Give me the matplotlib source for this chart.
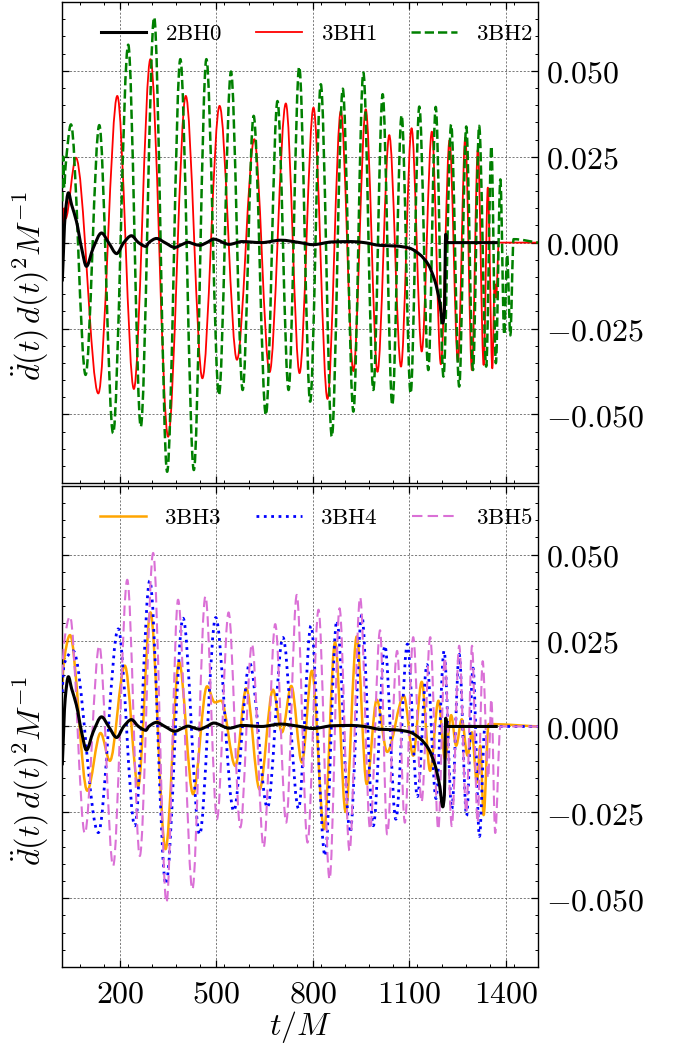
import numpy as np
import matplotlib
matplotlib.use('Agg')
import matplotlib.pyplot as plt
from matplotlib.path import Path
from matplotlib.patches import PathPatch
from matplotlib.lines import Line2D
from matplotlib.ticker import MultipleLocator, FuncFormatter

plt.rcParams['mathtext.fontset'] = 'cm'
plt.rcParams['font.family'] = 'serif'

# ── data (t/M, value) ───────────────────────────────────────────────────────
T_2BH0 = [21, 30, 40, 50, 65, 81, 96, 117, 143, 165, 190, 212, 236, 258, 281,
          290, 314, 340, 371, 392, 412, 430, 448, 470, 492, 540, 580, 640, 700,
          760, 800, 860, 920, 960, 1008, 1060, 1100, 1133, 1159, 1180, 1194,
          1204, 1209, 1213, 1218, 1375]
D_2BH0 = [-0.0113, 0.008, 0.0145, 0.011, 0.0062, -0.0016, -0.0069, -0.0016,
          0.0028, 0.0, -0.0032, 0.0, 0.002, 0.0, -0.0011, 0.0, 0.0012, 0.0,
          -0.0014, -0.0006, 0.0001, -0.0004, -0.0008, 0.0, 0.001, -0.0005,
          0.0003, 0.0, 0.0007, 0.0, -0.0006, 0.0002, 0.0003, 0.0, -0.0008,
          -0.001, -0.0016, -0.0035, -0.0064, -0.0113, -0.0171, -0.0234, -0.02,
          0.0024, 0.0, 0.0]

T_3BH1 = [21, 27, 31, 63.5, 133, 192, 243.5, 295, 350, 405, 456.5, 510, 564,
          618, 665.5, 716, 758.6, 802, 845.5, 887, 926, 964.5, 1001, 1037.6,
          1074, 1107, 1138.5, 1170, 1198, 1225, 1251, 1274, 1294.5, 1313, 1331,
          1344, 1358, 1365, 1370, 1378, 1500]
D_3BH1 = [0.003, 0.010, 0.007, 0.0247, -0.0439, 0.0427, -0.0426, 0.0534,
          -0.0565, 0.0427, -0.0395, 0.0398, -0.0341, 0.0301, -0.0377, 0.0405,
          -0.038, 0.0393, -0.0455, 0.0383, -0.0374, 0.0388, -0.0376, 0.0313,
          -0.0361, 0.0333, -0.0317, 0.0323, -0.0354, 0.0298, -0.0346, 0.0306,
          -0.0371, 0.0271, -0.0356, 0.016, -0.0366, -0.012, -0.016, 0.0, 0.0]

T_3BH2 = [21, 24, 27, 31, 48, 93.4, 136, 179, 226, 265, 306.6, 347, 388, 430,
          469, 508, 545.5, 581.7, 616, 654, 690, 724.5, 757.6, 791.7, 824.8,
          859, 893, 926, 957, 988, 1017, 1047, 1076, 1104, 1131, 1159, 1182,
          1206, 1230, 1255, 1277, 1298, 1317, 1339, 1355, 1369, 1383, 1395,
          1404, 1414, 1424, 1500]
D_3BH2 = [0.012, 0.025, 0.016, 0.022, 0.0344, -0.0385, 0.0342, -0.0555,
          0.0576, -0.0536, 0.0656, -0.0667, 0.0534, -0.0662, 0.0534, -0.0444,
          0.0498, -0.0429, 0.0369, -0.0502, 0.0412, -0.0429, 0.0512, -0.0463,
          0.0461, -0.0565, 0.0448, -0.0492, 0.0495, -0.0429, 0.0432, -0.0473,
          0.0371, -0.0439, 0.0396, -0.0371, 0.0395, -0.039, 0.0344, -0.0419,
          0.0338, -0.0371, 0.034, -0.0361, 0.0281, -0.0351, 0.0184, -0.0268,
          -0.0035, -0.027, 0.001, 0.0]

T_3BH3 = [21, 26, 45, 98.6, 140, 169, 215.5, 257, 295, 342, 384, 427.6, 471,
          495, 515, 559, 593, 634.5, 676, 704, 733, 766, 797, 835, 869, 902,
          936.5, 967.6, 998.6, 1031, 1083, 1112, 1138.5, 1164.5, 1190.5, 1211,
          1230, 1245.6, 1263, 1281, 1294.5, 1310, 1320.5, 1331, 1346.5, 1500]
D_3BH3 = [0.012, 0.019, 0.0266, -0.0187, -0.0019, -0.01, 0.0177, -0.0173,
          0.0332, -0.0357, 0.0188, -0.0197, 0.0117, 0.007, 0.0075, -0.0115,
          0.0111, -0.0183, 0.0107, -0.0017, 0.0118, -0.0105, 0.0162, -0.0299,
          0.0245, -0.0249, 0.0262, -0.0168, 0.0078, -0.0074, 0.0089, -0.0085,
          0.013, -0.0129, 0.0075, -0.0095, 0.0033, -0.0056, 0.0021, -0.0085,
          -0.0017, -0.0163, -0.0056, -0.0258, 0.0007, 0.0]

T_3BH4 = [21, 26, 55, 133, 195, 246.5, 293, 343, 396.6, 448, 498, 554, 603.5,
          659, 707, 755.5, 794, 838, 874.5, 916, 952, 988, 1024, 1058, 1094,
          1125, 1155, 1183, 1208, 1232, 1255, 1278, 1298, 1318, 1335, 1500]
D_3BH4 = [0.010, 0.018, 0.022, -0.0309, 0.0284, -0.0289, 0.0424, -0.0459,
          0.0315, -0.0314, 0.0317, -0.0246, 0.0184, -0.0236, 0.0259, -0.0239,
          0.0293, -0.0377, 0.0308, -0.0309, 0.0324, -0.0289, 0.0235, -0.027,
          0.024, -0.0204, 0.018, -0.021, 0.022, -0.024, 0.021, -0.026, 0.017,
          -0.032, 0.0, 0.0]

T_3BH5 = [21, 26, 45, 91, 136, 179, 223, 262, 303.5, 345, 381, 425.5, 466,
          502, 538, 574.5, 610.7, 647, 683, 717, 750, 783.5, 817.6, 852, 883,
          914, 947, 978, 1009, 1031, 1062, 1086, 1112, 1138, 1165, 1190, 1210,
          1232, 1255, 1277, 1295, 1312, 1328, 1345, 1355, 1367, 1383, 1500]
D_3BH5 = [0.015, 0.024, 0.032, -0.0311, 0.0235, -0.0406, 0.0427, -0.0377,
          0.0505, -0.0513, 0.0369, -0.0474, 0.0379, -0.027, 0.0332, -0.0294,
          0.024, -0.0352, 0.0298, -0.028, 0.0383, -0.0338, 0.034, -0.0445,
          0.0344, -0.0362, 0.0376, -0.0299, 0.028, -0.0314, 0.022, -0.028,
          0.026, -0.022, 0.026, -0.030, 0.020, -0.029, 0.0235, -0.025, 0.0235,
          -0.028, 0.019, -0.015, 0.008, -0.031, 0.0, 0.0]

X_TICKS = [200, 500, 800, 1100, 1400]
Y_TICKS = [-0.05, -0.025, 0.0, 0.025, 0.05]
YLABEL = r'$\ddot{d}(t)\,d(t)^2M^{-1}$'


def wave(ax, t, d, **kw):
    """Draw the read points as a smooth curve (monotone cubic Bezier segments,
    flat tangent at every local extremum)."""
    t = np.asarray(t, float)
    d = np.asarray(d, float)
    h = np.diff(t)
    s = np.diff(d) / h
    m = np.zeros_like(d)
    for i in range(1, len(d) - 1):
        if s[i - 1] * s[i] > 0:
            m[i] = 2.0 / (1.0 / s[i - 1] + 1.0 / s[i])
    m[0], m[-1] = s[0], s[-1]
    verts = [(t[0], d[0])]
    codes = [Path.MOVETO]
    for i in range(len(h)):
        verts += [(t[i] + h[i] / 3, d[i] + m[i] * h[i] / 3),
                  (t[i + 1] - h[i] / 3, d[i + 1] - m[i + 1] * h[i] / 3),
                  (t[i + 1], d[i + 1])]
        codes += [Path.CURVE4] * 3
    ax.add_patch(PathPatch(Path(verts, codes), fill=False,
                           capstyle='butt', joinstyle='round', **kw))
    return Line2D([], [], color=kw.get('edgecolor'), lw=kw.get('lw'),
                  ls=kw.get('ls', '-'))


fig = plt.figure(figsize=(6.78, 10.48), dpi=100)
ax_top = fig.add_axes([0.0914, 0.5390, 0.7021, 0.4590])
ax_bot = fig.add_axes([0.0914, 0.0773, 0.7021, 0.4590])

h1 = wave(ax_top, T_3BH1, D_3BH1, edgecolor='red', lw=1.3, zorder=2)
h2 = wave(ax_top, T_3BH2, D_3BH2, edgecolor='green', lw=1.8, ls='--', zorder=3)
h0 = wave(ax_top, T_2BH0, D_2BH0, edgecolor='black', lw=2.2, zorder=5)

h3 = wave(ax_bot, T_3BH3, D_3BH3, edgecolor='orange', lw=1.8, zorder=2)
h4 = wave(ax_bot, T_3BH4, D_3BH4, edgecolor='blue', lw=2.0, ls=':', zorder=3)
h5 = wave(ax_bot, T_3BH5, D_3BH5, edgecolor='orchid', lw=1.5, ls=(0, (5, 2.5)), zorder=4)
wave(ax_bot, T_2BH0, D_2BH0, edgecolor='black', lw=2.2, zorder=5)

for ax in (ax_top, ax_bot):
    ax.set_xlim(20, 1500)
    ax.set_ylim(-0.07, 0.07)
    ax.set_xticks(X_TICKS)
    ax.set_yticks(Y_TICKS)
    ax.xaxis.set_minor_locator(MultipleLocator(75))
    ax.yaxis.set_minor_locator(MultipleLocator(0.005))
    ax.xaxis.set_major_formatter(FuncFormatter(lambda v, p: r'$%d$' % v))
    ax.yaxis.set_major_formatter(FuncFormatter(lambda v, p: r'$%.3f$' % v))
    ax.tick_params(which='both', direction='in', top=True, right=True,
                   left=True, bottom=True, labelleft=False, labelright=True,
                   labelsize=23)
    ax.tick_params(which='major', length=5, width=0.9)
    ax.tick_params(axis='y', which='major', pad=6)
    ax.tick_params(axis='x', which='major', pad=8)
    ax.tick_params(which='minor', length=2.5, width=0.7)
    ax.grid(True, which='major', ls=(0, (2.5, 2)), lw=0.6, color='0.4')
    for sp in ax.spines.values():
        sp.set_linewidth(1.0)

ax_top.tick_params(labelbottom=False)
ax_bot.set_xlabel(r'$t/M$', fontsize=23, labelpad=0)

# y labels: sized so the rotated text is ~190 px long, centred where the
# reference has them
ylabs = [fig.text(0.043, 1 - 286.5 / 1048, YLABEL, rotation=90,
                  ha='center', va='center', fontsize=22),
         fig.text(0.043, 1 - 771.0 / 1048, YLABEL, rotation=90,
                  ha='center', va='center', fontsize=22)]
fig.canvas.draw()
span = ylabs[0].get_window_extent().height
for lab in ylabs:
    lab.set_fontsize(22 * 190.0 / span)

leg_kw = dict(ncol=3, loc='upper center', bbox_to_anchor=(0.535, 1.0),
              frameon=False, fontsize=16.5, handlelength=2.0,
              columnspacing=1.5, borderaxespad=0.5)
ax_top.legend([h0, h1, h2],
              [r'$\mathrm{2BH0}$', r'$\mathrm{3BH1}$', r'$\mathrm{3BH2}$'], **leg_kw)
ax_bot.legend([h3, h4, h5],
              [r'$\mathrm{3BH3}$', r'$\mathrm{3BH4}$', r'$\mathrm{3BH5}$'], **leg_kw)

fig.savefig('out.png', dpi=100)
